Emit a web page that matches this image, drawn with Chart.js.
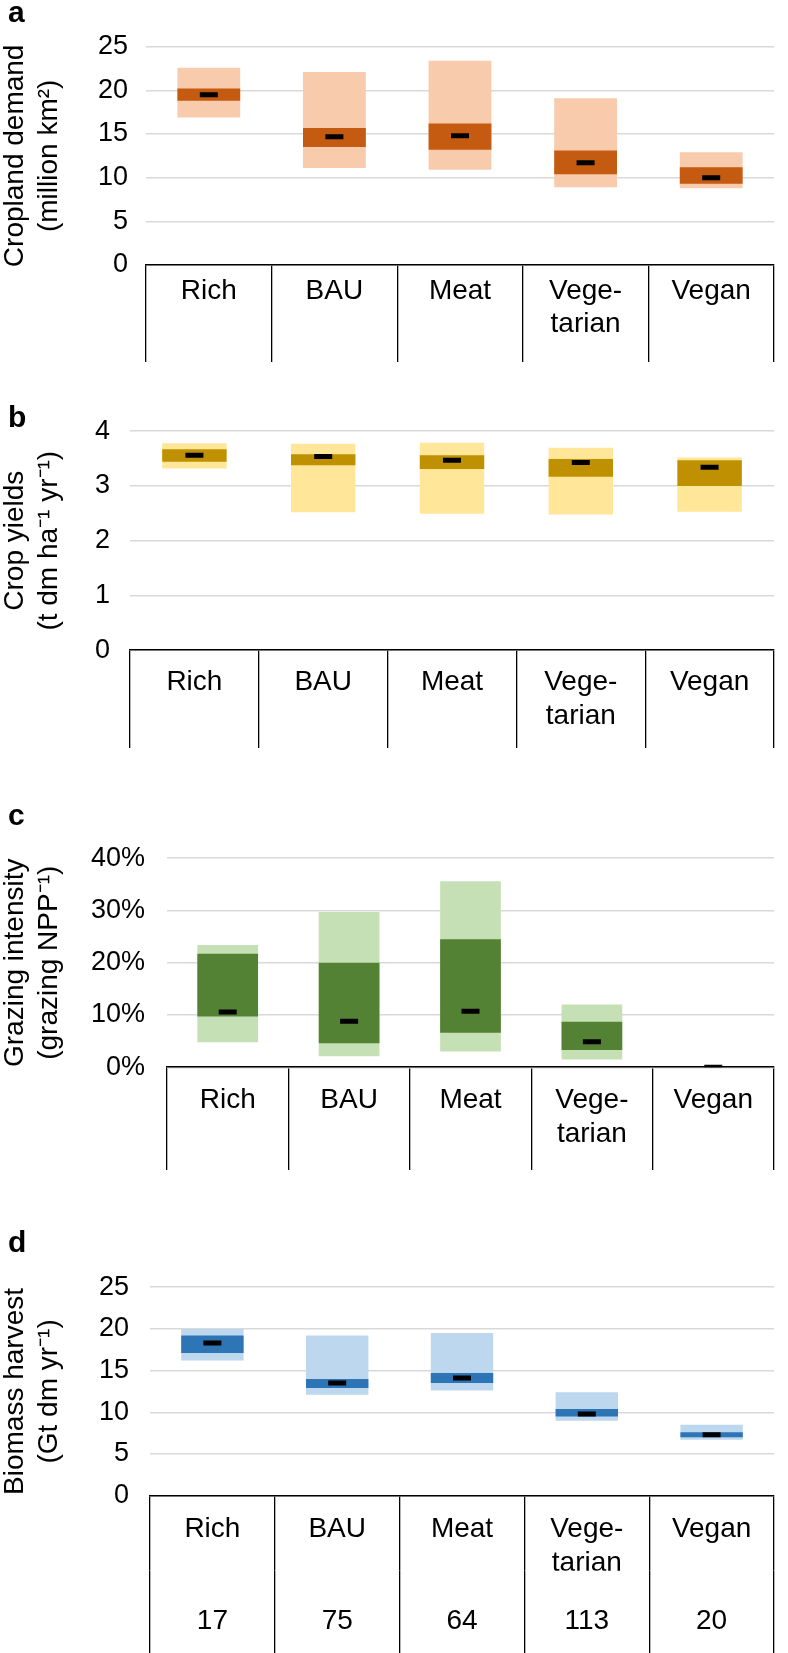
<!DOCTYPE html>
<html>
<head>
<meta charset="utf-8">
<script src="https://cdn.jsdelivr.net/npm/chart.js@4"></script>
<style>
  body { margin: 0; background: #fff; }
  #page { position: relative; width: 788px; height: 1653px; overflow: hidden; }
  canvas { position: absolute; left: 0; }
  .letter { position: absolute; left: 8px; font: bold 30px "Liberation Sans", Arial, sans-serif; line-height: 30px; color: #000; z-index: 2; }
</style>
</head>
<body>
<div id="page">
  <canvas id="panel-a"></canvas>
  <canvas id="panel-b"></canvas>
  <canvas id="panel-c"></canvas>
  <canvas id="panel-d"></canvas>
  <div class="letter" style="top:-3px">a</div>
  <div class="letter" style="top:402px">b</div>
  <div class="letter" style="top:800px">c</div>
  <div class="letter" style="top:1227px">d</div>
</div>
<script>
var fontFamily = '"Liberation Sans", Arial, Helvetica, sans-serif';
var categories = ["Rich", "BAU", "Meat", ["Vege-", "tarian"], "Vegan"];

// a: cropland demand (million km2)
var cropLow = [16.9, 11.1, 10.9, 8.9, 8.8];
var cropHigh = [22.6, 22.1, 23.4, 19.1, 12.9];
var cropQ1 = [18.8, 13.5, 13.2, 10.4, 9.3];
var cropQ3 = [20.2, 15.7, 16.2, 13.1, 11.2];
var cropMed = [19.5, 14.7, 14.8, 11.7, 10.0];

// b: crop yields (t dm / ha / yr)
var yieldLow = [3.32, 2.52, 2.49, 2.48, 2.53];
var yieldHigh = [3.78, 3.77, 3.79, 3.70, 3.52];
var yieldQ1 = [3.44, 3.38, 3.31, 3.17, 3.00];
var yieldQ3 = [3.67, 3.58, 3.56, 3.49, 3.47];
var yieldMed = [3.56, 3.54, 3.47, 3.43, 3.34];

// c: grazing intensity (%)
var grazLow = [4.8, 2.1, 3.0, 1.5, 0];
var grazHigh = [23.4, 29.7, 35.6, 12.0, 0];
var grazQ1 = [9.7, 4.6, 6.6, 3.3, 0];
var grazQ3 = [21.7, 20.0, 24.5, 8.7, 0];
var grazMed = [10.6, 8.8, 10.7, 4.9, 0];

// d: biomass harvest (Gt dm / yr)
var bioLow = [16.2, 12.1, 12.6, 9.0, 6.7];
var bioHigh = [20.0, 19.2, 19.5, 12.4, 8.5];
var bioQ1 = [17.1, 12.9, 13.5, 9.5, 7.0];
var bioQ3 = [19.2, 14.0, 14.7, 10.4, 7.6];
var bioMed = [18.3, 13.5, 14.1, 9.8, 7.3];
var scenarioCounts = ["17", "75", "64", "113", "20"];

var labelSize = 28;
var labelLine = labelSize * 1.2;

function makePanel(id, p) {
  var canvas = document.getElementById(id);
  canvas.width = 788;
  canvas.height = p.boxBottom - p.top;
  canvas.style.top = p.top + 'px';

  var countHeight = p.counts ? p.countHeight : 0;
  var xHeight = p.boxBottom - p.chartBottom - countHeight;

  var scales = {
    x: {
      type: 'category',
      offset: true,
      weight: 0,
      grid: { offset: true, drawOnChartArea: false, drawTicks: true, tickLength: xHeight, color: '#000', lineWidth: 1.3 },
      border: { display: true, color: '#000', width: 1.6, z: 1 },
      ticks: {
        color: '#000', autoSkip: false, maxRotation: 0,
        font: { family: fontFamily, size: labelSize, lineHeight: 1.2 },
        padding: p.labelOffset - labelLine / 2 - xHeight
      },
      afterFit: function (s) { s.height = xHeight; }
    },
    y: {
      min: 0,
      max: p.max,
      ticks: {
        stepSize: p.step, color: '#000', padding: p.tickPad,
        font: { family: fontFamily, size: 27 },
        callback: function (v) { return v + (p.suffix || ''); }
      },
      grid: { color: '#d9d9d9', lineWidth: 1.5, drawTicks: false },
      border: { display: false },
      title: {
        display: true, text: p.title, color: '#000',
        font: { family: fontFamily, size: 28, lineHeight: 1.2 },
        padding: { top: -1.5, bottom: 0 }
      },
      afterFit: function (s) { s.width = p.left; }
    }
  };

  if (p.counts) {
    scales.x2 = {
      type: 'category',
      position: 'bottom',
      labels: p.counts,
      offset: true,
      weight: 1,
      grid: { offset: true, drawOnChartArea: false, drawTicks: true, tickLength: countHeight, color: '#000', lineWidth: 1.3 },
      border: { display: false },
      ticks: {
        color: '#000', autoSkip: false, maxRotation: 0,
        font: { family: fontFamily, size: labelSize, lineHeight: 1.2 },
        padding: p.countOffset - labelLine / 2 - countHeight
      },
      afterFit: function (s) { s.height = countHeight; }
    };
  }

  new Chart(canvas, {
    type: 'bar',
    data: {
      labels: categories,
      datasets: [{
        label: 'Range',
        data: p.low.map(function (v, i) { return [v, p.high[i]]; }),
        backgroundColor: p.light,
        order: 3
      }, {
        label: 'Interquartile',
        data: p.q1.map(function (v, i) { return [v, p.q3[i]]; }),
        backgroundColor: p.dark,
        order: 2
      }, {
        type: 'line',
        label: 'Median',
        data: p.med,
        showLine: false,
        pointStyle: 'line',
        pointRadius: 9,
        pointHoverRadius: 9,
        pointBorderWidth: 5,
        pointBorderColor: '#000',
        pointBackgroundColor: '#000',
        order: 1
      }]
    },
    options: {
      responsive: false,
      animation: false,
      layout: { padding: { top: p.chartTop - p.top, bottom: 0, left: 0, right: 1 } },
      datasets: {
        bar: { grouped: false, categoryPercentage: 1, barPercentage: 0.5, borderWidth: 0 }
      },
      plugins: {
        legend: { display: false },
        tooltip: { enabled: false }
      },
      scales: scales
    }
  });
}

makePanel('panel-a', {
  top: 0, chartTop: 46.7, chartBottom: 265, boxBottom: 362, left: 146, labelOffset: 26, tickPad: 18,
  max: 25, step: 5, title: ["Cropland demand", "(million km\u00b2)"],
  low: cropLow, high: cropHigh, q1: cropQ1, q3: cropQ3, med: cropMed,
  light: '#F8CBAD', dark: '#C55A11'
});

makePanel('panel-b', {
  top: 395, chartTop: 430.5, chartBottom: 650.7, boxBottom: 748.5, left: 130, labelOffset: 32, tickPad: 20,
  max: 4, step: 1, title: ["Crop yields", "(t dm ha\u207b\u00b9 yr\u207b\u00b9)"],
  low: yieldLow, high: yieldHigh, q1: yieldQ1, q3: yieldQ3, med: yieldMed,
  light: '#FFE699', dark: '#BF9000'
});

makePanel('panel-c', {
  top: 820, chartTop: 847.7, chartBottom: 1067.3, boxBottom: 1170, left: 167, labelOffset: 33, tickPad: 22,
  max: 40, step: 10, suffix: '%', title: ["Grazing intensity", "(grazing NPP\u207b\u00b9)"],
  low: grazLow, high: grazHigh, q1: grazQ1, q3: grazQ3, med: grazMed,
  light: '#C5E0B4', dark: '#548235'
});

makePanel('panel-d', {
  top: 1250, chartTop: 1276.7, chartBottom: 1495.7, boxBottom: 1653, left: 150, labelOffset: 34, tickPad: 21,
  counts: scenarioCounts, countHeight: 82.3, countOffset: 50.3,
  max: 25, step: 5, title: ["Biomass harvest", "(Gt dm yr\u207b\u00b9)"],
  low: bioLow, high: bioHigh, q1: bioQ1, q3: bioQ3, med: bioMed,
  light: '#BDD7EE', dark: '#2E75B6'
});
</script>
</body>
</html>
